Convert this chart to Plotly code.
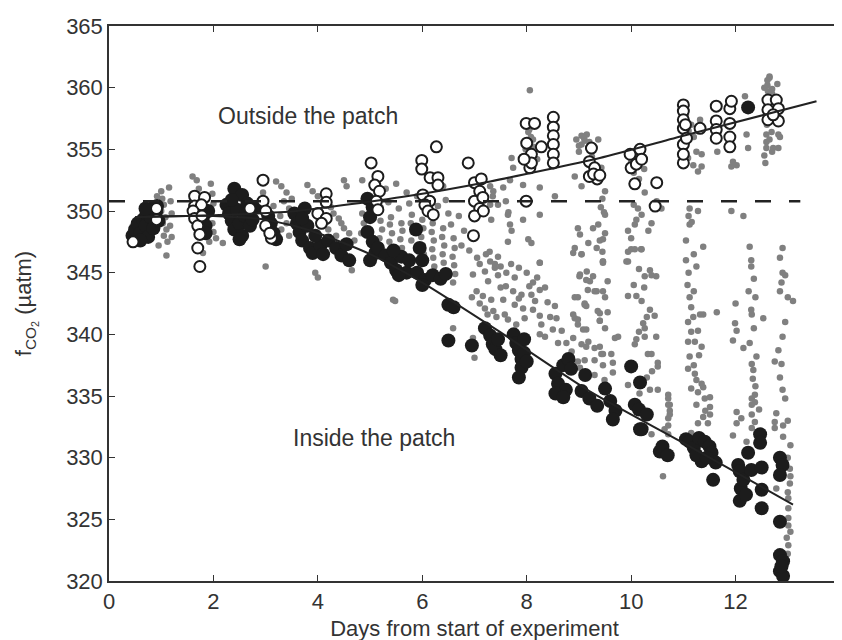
import plotly.graph_objects as go

# ---------------- data ----------------
# underway (continuous) measurements: small grey dots
gray_day = [
    1.0, 1.02, 1.05, 1.0, 1.08, 1.03, 1.1, 1.05, 1.12, 1.1, 1.15, 1.18, 1.2, 1.17, 1.2, 0.92, 0.95,
    1.6, 1.68, 1.72, 1.65, 1.95, 1.98, 2.0, 1.95, 1.98, 2.0, 1.92, 1.8, 2.05,
    2.18, 2.9, 2.95, 3.0, 3.2, 3.3, 3.4, 3.35, 3.45, 3.28, 3.4, 3.3, 3.45, 3.5, 3.15, 3.25,
    3.8, 3.9, 4.0, 4.15, 4.25, 4.3, 4.4, 4.45, 4.5, 4.6, 3.95, 4.0, 4.65, 4.2, 4.35, 4.7, 4.55,
    4.85, 4.88, 4.83, 5.2, 5.23, 5.18, 5.4, 5.38, 5.42, 5.37, 5.6, 5.62, 5.58, 5.61,
    5.8, 5.78, 5.82, 5.79, 6.0, 6.02, 5.98, 6.01, 6.03, 6.2, 6.18, 6.22, 6.19, 6.21, 6.23,
    6.4, 6.38, 6.42, 6.39, 6.41, 6.43, 6.37, 6.6, 6.62, 6.58, 6.61, 6.63, 6.59,
    5.44, 5.48, 6.59, 6.97, 7.0, 5.3, 5.5, 5.7, 6.4, 4.5, 4.85,
    6.97, 7.2, 7.39, 7.26, 7.04, 7.16, 7.32, 7.2, 7.36, 7.55, 7.61, 7.77, 7.74, 7.9, 7.77, 7.93,
    7.58, 7.64, 7.8, 7.96, 8.12, 8.25, 8.09, 8.16, 8.25, 8.12, 8.25, 8.28, 8.25, 8.54, 8.57, 8.67,
    8.76, 8.86, 9.02, 9.15, 9.21, 9.34, 9.46, 8.98, 9.11, 8.92, 8.98, 9.14, 9.18, 9.3, 9.43, 9.02,
    9.3, 9.69, 9.4, 9.4,
    8.06, 7.71, 7.74, 7.68, 7.36, 7.3, 7.32, 7.64, 7.68, 7.71, 7.64, 7.93, 7.93, 8.03, 8.09, 8.25,
    8.25, 8.54, 7.29, 7.39, 8.25, 8.0, 8.08, 8.12, 8.03,
    8.95, 9.05, 9.18, 9.0, 9.11, 9.37, 8.92, 9.05, 9.43, 9.5,
    9.5, 9.37, 9.27, 8.98, 9.02, 8.92, 9.18, 9.34, 9.46, 9.46, 9.05,
    10.26, 10.13, 10.2, 10.07, 9.94, 10.39, 10.33, 10.0, 10.2, 9.91, 10.58, 10.49,
    8.89, 9.05, 9.46, 9.01, 9.14, 9.27, 9.17, 9.3, 9.46, 8.92, 9.11, 9.14, 9.36, 9.4, 8.89, 8.98,
    9.08, 8.89, 9.05, 9.14, 9.4, 9.46, 8.98, 9.11, 9.3, 9.46, 9.62, 9.65, 9.65, 9.49, 9.75, 9.94,
    10.1, 9.94, 9.94, 10.07, 10.19, 10.26, 10.39, 10.48, 10.36, 10.36, 10.45, 10.23, 10.26, 10.1,
    10.07, 10.26, 10.48, 10.32, 10.39, 10.51, 10.51, 9.94, 10.16, 10.36, 10.51, 10.71, 10.71,
    10.74, 10.71, 10.64, 10.71, 10.61, 10.39,
    10.71, 10.74, 10.74, 10.71, 11.09, 11.19, 11.32, 11.38, 11.28, 11.09, 11.22, 11.35, 11.12,
    11.09, 11.22, 11.25, 11.15, 11.28, 11.38, 11.41, 11.51, 11.51, 11.25, 11.38, 11.28, 11.47,
    11.51, 11.15, 11.64, 11.99, 12.02, 11.95, 12.15, 12.27, 12.31, 12.34, 12.31, 12.53, 12.02,
    12.02, 11.95, 12.11, 12.31, 12.31, 12.31, 12.37, 12.31, 12.21, 12.37, 12.37, 12.82, 12.75,
    12.88, 12.78, 12.75, 12.75, 12.91, 12.91, 13.04, 13.04, 12.78, 13.01, 13.01, 12.98, 13.01,
    13.01, 13.01,
    11.03, 11.09, 11.19, 11.25, 11.35, 11.35, 11.28, 11.32, 12.18, 12.21, 12.24, 11.95, 12.02,
    11.92, 11.65, 11.67, 12.61, 12.61, 12.62, 12.59, 12.69, 12.59, 12.59, 12.59, 12.72, 12.82,
    12.82, 12.57, 12.65, 12.7,
    11.12, 11.28, 11.16, 11.12, 11.92, 12.15, 11.38, 12.27,
    11.05, 11.1, 11.08, 11.12, 11.15, 11.25, 11.2, 12.3, 12.35, 12.25, 12.0,
    12.85, 12.9, 12.88, 13.0, 13.1, 12.95,
    6.9, 7.05, 7.1, 7.22, 7.3, 7.45, 7.5, 6.95, 7.1, 7.25, 7.42, 7.5, 7.6, 7.45, 7.7, 7.85, 8.0,
    8.05, 7.85, 8.2, 8.35, 8.4, 8.45, 8.5, 8.35, 8.6,
    9.45, 9.42, 9.48, 9.5, 9.4, 9.45, 9.55, 9.5, 9.55, 9.5,
    10.05, 10.1, 10.0, 10.15, 10.05, 10.25, 10.2, 10.3, 10.15, 10.4, 10.3,
    11.1, 11.05, 11.2, 11.15, 11.3, 11.2, 11.35, 11.42,
    12.3, 12.38, 12.3, 12.35, 12.4, 12.33, 12.38, 12.45, 12.42,
    12.9, 12.85, 12.95, 12.9, 12.85, 12.9, 12.95, 13.0, 13.05, 13.0, 13.05, 13.0, 13.05, 13.0, 12.95,
    9.05, 9.1, 9.15, 9.2, 9.25, 9.0,
    12.55, 12.65, 12.7, 12.75, 12.8, 12.6, 12.65, 12.7, 12.55, 12.85,
    5.2, 5.35, 5.55, 5.75, 5.9, 6.3, 6.45, 6.5, 6.55, 6.7, 6.8, 6.75,
    7.3, 7.35, 7.45, 7.55, 7.6, 7.65,
    8.05, 7.98, 8.12, 8.2,
    10.0, 10.12, 10.25, 10.15, 10.05,
    11.05, 11.1, 11.08, 11.15, 11.2,
]
gray_fco2 = [
    351.6, 351.0, 350.5, 350.0, 349.5, 349.0, 348.5, 348.0, 347.5, 346.4, 351.9, 350.8, 349.8, 348.8, 347.9, 351.2, 347.2,
    352.8, 352.5, 351.8, 350.6, 352.2, 351.4, 350.6, 349.8, 349.0, 348.3, 347.5, 346.6, 347.8,
    347.4, 352.4, 351.5, 345.5, 352.4, 352.0, 351.5, 350.8, 350.2, 349.6, 349.0, 348.5, 348.0, 351.0, 350.4, 347.5,
    352.1, 351.6, 351.2, 350.7, 350.3, 349.8, 349.4, 349.0, 348.6, 348.2, 345.0, 344.6, 345.2, 348.5, 348.0, 347.6, 352.0,
    349.8, 349.0, 348.2, 349.2, 348.5, 347.8, 349.5, 348.9, 348.2, 347.5, 349.0, 348.4, 347.7, 347.0,
    349.7, 349.0, 348.3, 347.6, 349.3, 348.6, 347.9, 347.2, 346.5, 349.0, 348.3, 347.6, 346.9, 346.2, 345.5,
    348.6, 347.9, 347.2, 346.5, 345.8, 345.1, 344.4, 347.8, 347.0, 346.3, 345.6, 344.9, 344.2,
    342.8, 342.7, 340.5, 339.7, 338.1, 351.8, 352.2, 351.5, 352.0, 352.5, 352.5,
    344.85, 345.1, 345.4, 344.3, 343.5, 343.1, 342.8, 342.1, 341.9, 342.8, 345.0, 344.6, 343.5, 343.2, 342.4, 342.1,
    341.6, 341.2, 340.8, 341.3, 344.2, 345.8, 343.2, 342.7, 343.6, 342.0, 341.5, 340.8, 340.0, 342.3, 341.3, 340.3,
    339.3, 338.6, 344.85, 345.1, 344.3, 343.5, 345.8, 343.0, 342.4, 341.3, 340.8, 340.4, 339.4, 338.9, 338.4, 337.3,
    336.7, 339.7, 341.7, 341.1,
    359.8, 354.3, 353.5, 352.5, 351.6, 350.5, 349.3, 349.7, 348.9, 348.4, 347.5, 352.1, 349.3, 347.7, 347.4, 351.9,
    349.7, 351.2, 346.7, 345.7, 345.8, 355.6, 356.0, 355.2, 356.4,
    355.8, 355.4, 355.1, 354.8, 355.7, 355.8, 352.8, 352.0, 353.5, 351.6,
    349.7, 348.9, 348.6, 348.6, 348.1, 347.0, 347.4, 347.0, 347.7, 345.9, 346.5,
    351.5, 350.2, 349.7, 348.9, 348.4, 349.0, 348.4, 346.9, 346.9, 345.9, 350.2, 350.8,
    346.6, 346.5, 345.9, 344.7, 344.4, 344.7, 343.6, 343.5, 343.5, 343.0, 342.5, 342.3, 341.9, 341.1, 341.6, 341.2,
    340.4, 339.7, 339.2, 339.0, 339.0, 338.4, 337.8, 337.9, 337.9, 337.5, 338.4, 337.7, 336.9, 336.3, 339.8, 343.1,
    343.1, 345.9, 346.7, 346.9, 346.9, 344.7, 344.8, 344.7, 345.2, 342.0, 341.5, 340.9, 340.5, 339.6,
    339.2, 339.8, 339.8, 338.4, 338.4, 337.7, 337.4, 335.9, 335.2, 335.5, 335.5, 334.8, 334.3,
    333.8, 333.2, 332.3, 331.9, 328.5, 331.9,
    335.1, 334.3, 333.5, 332.6, 341.0, 341.4, 341.6, 341.6, 340.3, 339.4, 339.4, 339.0, 338.2,
    337.2, 336.8, 336.3, 335.6, 335.3, 335.7, 334.8, 334.9, 334.1, 334.3, 333.3, 332.8, 332.8,
    333.5, 332.0, 341.8, 340.9, 340.3, 339.5, 338.9, 339.3, 337.6, 337.1, 341.6, 341.3, 333.7,
    332.8, 331.8, 333.2, 334.8, 334.3, 333.5, 332.9, 332.4, 331.3, 335.1, 334.5, 338.7, 337.8,
    337.6, 333.6, 332.9, 332.4, 332.6, 331.7, 329.1, 327.9, 327.5, 325.9, 324.5, 323.5, 322.9,
    326.7, 325.1,
    355.1, 354.3, 353.7, 354.8, 354.6, 353.6, 353.2, 357.4, 359.3, 356.2, 355.1, 354.0, 353.7,
    353.6, 354.8, 356.3, 360.6, 360.2, 359.7, 359.1, 356.4, 356.2, 355.6, 355.1, 355.1, 355.1,
    356.2, 353.9, 360.9, 359.9,
    350.2, 350.0, 349.1, 348.9, 350.0, 349.6, 347.1, 347.1,
    346.0, 345.0, 344.0, 343.0, 342.2, 345.5, 343.5, 346.0, 344.5, 343.5, 342.5,
    346.2, 345.0, 344.2, 343.0, 342.7, 344.8,
    346.8, 346.2, 345.7, 346.5, 345.9, 346.3, 345.5, 343.0, 342.5, 341.6, 341.4, 343.8, 343.9, 344.8, 345.7, 345.4, 345.0,
    343.9, 342.9, 344.6, 343.8, 342.6, 341.4, 340.4, 339.8, 339.3,
    351.0, 350.3, 349.9, 348.2, 347.6, 346.7, 344.3, 343.0, 341.8, 340.5,
    350.5, 349.3, 347.8, 345.3, 344.0, 343.8, 342.7, 341.4, 340.2, 337.0, 336.5,
    349.6, 347.6, 346.5, 340.2, 338.3, 337.5, 336.0, 333.8,
    345.5, 343.0, 342.0, 340.5, 338.2, 336.4, 335.8, 333.9, 331.0,
    347.0, 343.5, 341.0, 339.8, 336.5, 335.5, 334.8, 333.0, 331.0, 330.0, 328.5, 327.2, 324.0, 322.2, 321.5,
    356.1, 355.9, 356.2, 355.6, 354.4, 355.3,
    360.0, 360.8, 359.5, 358.8, 360.3, 357.0, 355.8, 354.8, 354.5, 356.0,
    350.3, 350.7, 350.2, 350.6, 351.2, 350.4, 350.9, 349.8, 348.9, 349.6, 348.4, 347.2,
    352.0, 351.2, 350.5, 351.9, 350.8, 349.9,
    356.6, 355.0, 355.8, 354.2,
    354.0, 354.5, 353.4, 352.6, 353.1,
    357.8, 356.5, 355.7, 357.0, 356.0,
]

# discrete samples inside the patch: large filled circles
inside_day = [
    0.45, 0.5, 0.55, 0.6, 0.65, 0.7, 0.72, 0.75, 0.8, 0.82, 0.85, 0.9, 0.92, 0.95, 0.6, 0.7,
    1.8, 1.85, 1.9, 1.85,
    2.4, 2.55, 2.25, 2.3, 2.35, 2.4, 2.45, 2.5, 2.55, 2.6, 2.65, 2.7, 2.75, 2.8, 2.5, 2.35,
    3.1, 3.15, 3.2, 3.05,
    3.55, 3.6, 3.65, 3.7, 3.75, 3.8, 3.85, 3.9, 3.7, 4.05, 4.1, 4.2, 3.95,
    4.35, 4.45, 4.55, 4.6,
    4.95, 5.05, 5.0, 4.95, 5.05, 5.1, 5.0, 5.15,
    5.3, 5.4, 5.5, 5.6, 5.7, 5.45, 5.55, 5.75,
    5.88, 5.95, 6.0, 5.9, 6.05, 6.0,
    6.2, 6.35, 6.45,
    6.5, 6.6, 6.5, 6.95,
    7.2, 7.3, 7.35, 7.4, 7.45, 7.5,
    7.75, 7.8, 7.85, 7.9, 7.95, 7.9, 7.85, 7.95, 8.0,
    8.55, 8.6, 8.7, 8.75, 8.8, 8.55, 8.7, 8.85,
    9.12, 9.05, 9.2, 9.35, 9.5, 9.6, 9.7, 9.65,
    10.0, 10.17, 10.07, 10.15, 10.3, 10.17, 10.55, 10.6, 10.7, 10.2,
    11.05, 11.12, 11.2, 11.3, 11.41, 11.35, 11.5, 11.54, 11.62, 11.57, 11.25, 11.45,
    12.05, 12.08, 12.1, 12.08, 12.15, 12.24, 12.3, 12.47, 12.47, 12.5, 12.5, 12.5, 12.2,
    12.85, 12.9, 12.85, 12.85, 12.85, 12.91, 12.85, 12.91, 12.88,
    12.24,
]
inside_fco2 = [
    348.0, 348.5, 349.0, 348.2, 349.3, 348.8, 349.8, 347.9, 349.5, 350.2, 348.6, 349.9, 350.4, 349.2, 347.6, 350.2,
    349.5, 348.8, 350.0, 348.2,
    351.8, 351.3, 350.5, 349.8, 349.2, 348.5, 350.1, 349.0, 348.0, 349.6, 350.6, 348.8, 349.3, 350.3, 347.7, 350.9,
    349.0, 348.2, 347.7, 349.6,
    349.8, 349.0, 348.3, 347.6, 350.2, 348.8, 347.0, 346.6, 349.4, 347.2, 346.5, 347.6, 348.0,
    347.0, 346.4, 347.3, 346.0,
    351.0, 350.3, 349.5, 348.3, 347.5, 346.6, 346.0, 347.0,
    346.4, 345.8, 345.2, 346.3, 345.0, 346.8, 344.8, 346.0,
    348.5, 347.0, 346.0, 345.0, 344.4, 344.0,
    344.8, 344.5, 344.9,
    342.4, 342.2, 339.5, 339.1,
    340.5, 339.9, 339.2, 338.8, 339.6, 338.3,
    340.0, 339.3, 338.7, 338.0, 339.6, 337.3, 336.5, 338.5, 337.8,
    336.8, 336.0, 337.5, 335.5, 338.0, 335.2, 334.9, 337.2,
    336.7, 335.4, 334.8, 334.2, 335.6, 334.6, 333.8, 333.1,
    337.4, 336.1, 334.3, 333.9, 333.5, 332.3, 330.5, 330.9, 330.2, 332.3,
    331.5, 331.3, 330.8, 331.6, 331.3, 329.7, 330.9, 330.4, 329.6, 328.2, 330.2, 330.0,
    329.4, 328.9, 327.5, 326.5, 328.2, 330.4, 329.0, 331.9, 331.2, 329.2, 327.4, 325.9, 327.0,
    330.0, 329.4, 328.6, 324.8, 322.1, 321.6, 320.8, 320.4, 321.2,
    358.4,
]

# discrete samples outside the patch: open circles
outside_day = [
    0.46, 0.91, 0.91,
    1.64, 1.83, 1.64, 1.77, 1.61, 1.64, 1.7, 1.74, 1.7, 1.74, 1.78,
    2.95, 2.7, 2.95, 3.0, 3.0, 3.11, 3.08,
    4.16, 4.16, 4.0, 4.16, 4.07,
    5.02, 5.15, 5.09, 5.18, 5.12, 5.15,
    5.99, 5.99, 6.15, 6.27, 6.3, 6.01, 6.14, 6.05, 6.11, 6.21, 6.3,
    6.88, 7.0, 7.13, 7.1, 7.0, 7.1, 7.0, 7.17, 6.98, 7.16,
    7.99, 8.15, 8.06, 8.09, 8.09, 8.28, 8.51, 8.51, 8.51, 8.51, 8.51, 8.51, 7.99, 8.0, 7.95,
    9.24, 9.2, 9.3, 9.35, 9.2, 9.28, 9.4,
    9.98, 10.17, 10.07, 10.0, 10.1, 10.2, 10.49, 10.46,
    11.0, 11.0, 11.0, 11.0, 11.0, 11.0, 11.0, 11.32, 11.04, 11.06,
    11.63, 11.63, 11.63, 11.63, 11.89, 11.92, 11.89, 11.89, 11.89,
    12.62, 12.78, 12.62, 12.82, 12.62, 12.82, 12.72,
]
outside_fco2 = [
    347.5, 350.2, 349.3,
    351.2, 351.1, 350.4, 350.5, 350.0, 349.4, 348.8, 348.1, 347.0, 345.5, 349.6,
    352.5, 350.2, 350.8, 350.0, 348.8, 347.8, 348.2,
    351.4, 350.7, 349.8, 349.4, 349.0,
    353.9, 352.8, 352.1, 351.6, 350.8, 350.1,
    354.1, 353.4, 352.7, 355.2, 352.7, 351.3, 350.8, 350.5, 350.0, 349.7, 352.1,
    353.9, 352.3, 352.6, 351.6, 350.8, 350.2, 349.6, 350.0, 348.0, 351.1,
    357.1, 357.1, 353.5, 354.6, 353.9, 355.2, 357.6, 356.8, 356.1, 355.4, 354.6, 353.9, 350.8, 355.5, 354.2,
    355.1, 354.0, 353.5, 352.6, 352.8, 353.0, 352.9,
    354.6, 355.0, 352.2, 353.5, 353.8, 354.2, 352.3, 350.4,
    358.6, 358.1, 357.4, 356.7, 355.4, 353.9, 354.6, 356.7, 357.0, 355.9,
    358.5, 357.3, 356.6, 355.9, 358.3, 358.9, 357.1, 356.0, 355.2,
    359.0, 359.0, 358.2, 358.3, 357.4, 357.3, 357.8,
]

# fitted trends and the initial level
outside_fit_day = [0.5, 2.0, 3.6, 5.7, 7.3, 9.4, 11.0, 13.55]
outside_fit_fco2 = [349.5, 349.65, 350.0, 351.2, 352.4, 354.3, 356.1, 358.9]
inside_fit_day = [0.5, 2.0, 3.0, 3.87, 5.0, 6.0, 7.45, 9.2, 11.0, 13.1]
inside_fit_fco2 = [349.5, 349.6, 349.3, 348.4, 346.5, 344.2, 340.3, 335.4, 331.2, 326.2]
initial_level_day = [0.0, 13.24]
initial_level_fco2 = [350.8, 350.8]

x_ticks = [0, 2, 4, 6, 8, 10, 12, 14]
y_ticks = [320, 325, 330, 335, 340, 345, 350, 355, 360, 365]

FONT = "Liberation Sans, Arial, Helvetica, sans-serif"
TXT = "#333333"

fig = go.Figure()
fig.add_trace(go.Scatter(x=gray_day, y=gray_fco2, mode="markers",
                         marker=dict(size=6.5, color="#808080", line=dict(width=0)),
                         showlegend=False, hoverinfo="skip"))
fig.add_trace(go.Scatter(x=inside_day, y=inside_fco2, mode="markers",
                         marker=dict(size=14, color="#1c1c1c", line=dict(width=0)),
                         showlegend=False))
fig.add_trace(go.Scatter(x=outside_day, y=outside_fco2, mode="markers",
                         marker=dict(size=11, color="white", line=dict(width=2, color="#1c1c1c")),
                         showlegend=False))
fig.add_trace(go.Scatter(x=initial_level_day, y=initial_level_fco2, mode="lines",
                         line=dict(color="#222222", width=2.5, dash="16px,18px"),
                         showlegend=False))
fig.add_trace(go.Scatter(x=outside_fit_day, y=outside_fit_fco2, mode="lines",
                         line=dict(color="#222222", width=2, shape="spline", smoothing=0.6),
                         showlegend=False))
fig.add_trace(go.Scatter(x=inside_fit_day, y=inside_fit_fco2, mode="lines",
                         line=dict(color="#222222", width=2, shape="spline", smoothing=0.6),
                         showlegend=False))

fig.add_annotation(x=2.05, y=357.7, text="Outside the patch", showarrow=False,
                   xanchor="left", yanchor="middle", font=dict(size=23, color=TXT, family=FONT))
fig.add_annotation(x=3.49, y=331.6, text="Inside the patch", showarrow=False,
                   xanchor="left", yanchor="middle", font=dict(size=23, color=TXT, family=FONT))

axis_common = dict(showline=True, linewidth=1.5, linecolor="#333333", mirror="allticks",
                   ticks="inside", ticklen=6, tickwidth=1.2, tickcolor="#333333",
                   showgrid=False, zeroline=False, automargin=False,
                   tickfont=dict(size=22, color=TXT, family=FONT))

fig.update_layout(
    width=842, height=640,
    margin=dict(l=101, r=10, t=18, b=67),
    paper_bgcolor="white", plot_bgcolor="white",
    font=dict(family=FONT, color=TXT),
    xaxis=dict(range=[0, 14], tickvals=x_ticks,
               title=dict(text="Days from start of experiment", font=dict(size=22, color=TXT, family=FONT),
                          standoff=7),
               **axis_common),
    yaxis=dict(range=[320, 365], tickvals=y_ticks,
               title=dict(text="f<sub>CO<sub>2</sub></sub> (µatm)", font=dict(size=22, color=TXT, family=FONT),
                          standoff=28),
               **axis_common),
)

fig.write_html("out.html")
